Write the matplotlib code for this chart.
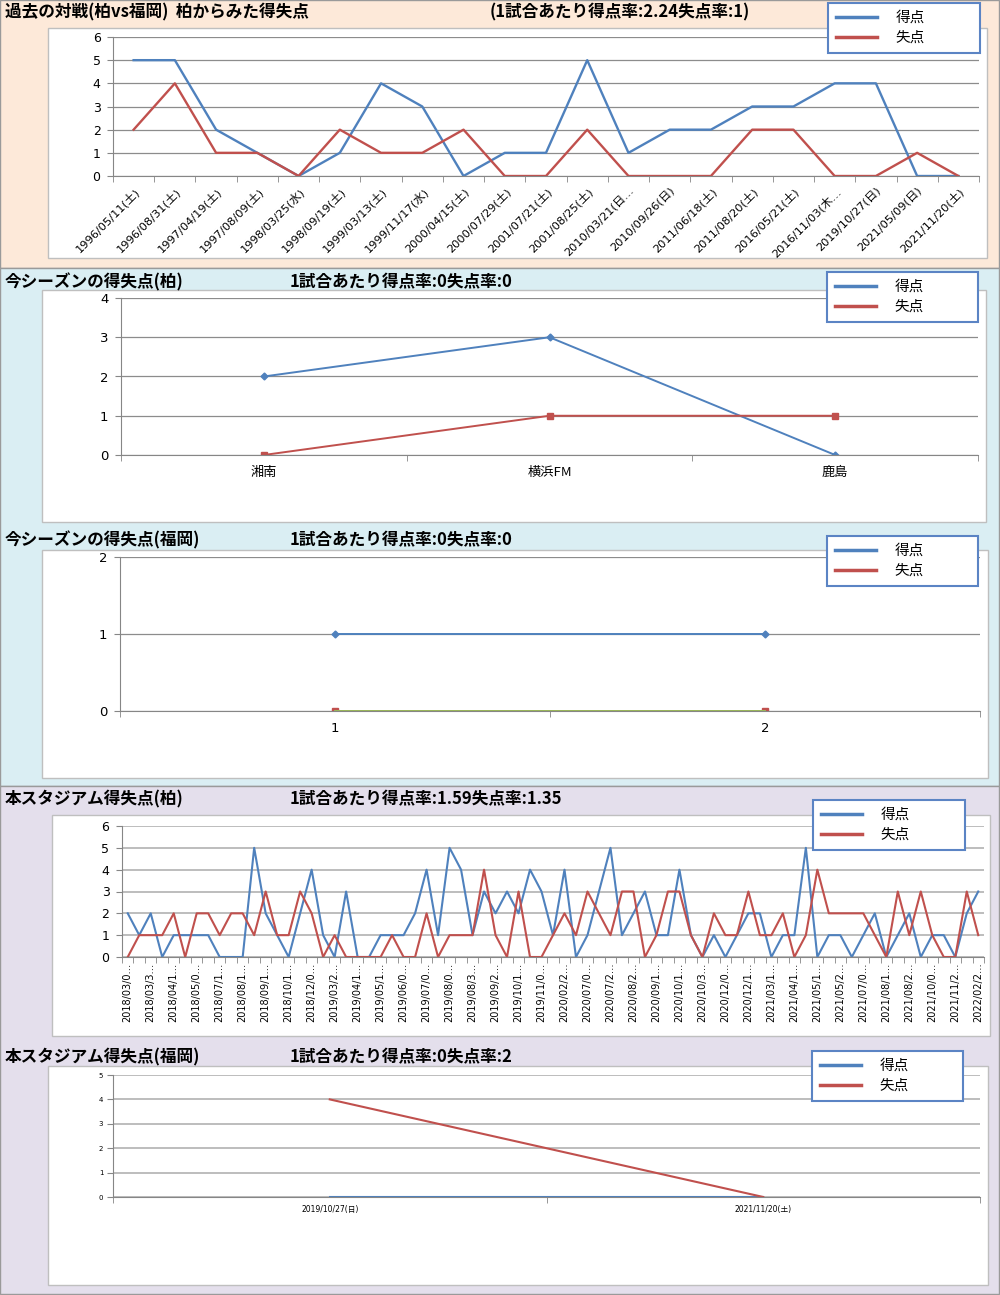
import numpy as np
from matplotlib import pyplot as plt
from matplotlib.patches import Rectangle
from matplotlib.lines import Line2D
import sys

W, H = 1000, 1295
BLUE = '#4F81BD'
RED = '#C0504D'
GREEN = '#9BBB59'
JP = ['Noto Sans CJK JP', 'DejaVu Sans']
NUM = ['DejaVu Sans', 'Noto Sans CJK JP']

# past matches (kashiwa view)
past_dates = ['1996/05/11(土)', '1996/08/31(土)', '1997/04/19(土)', '1997/08/09(土)',
              '1998/03/25(水)', '1998/09/19(土)', '1999/03/13(土)', '1999/11/17(水)',
              '2000/04/15(土)', '2000/07/29(土)', '2001/07/21(土)', '2001/08/25(土)',
              '2010/03/21(日…', '2010/09/26(日)', '2011/06/18(土)', '2011/08/20(土)',
              '2016/05/21(土)', '2016/11/03(木…', '2019/10/27(日)', '2021/05/09(日)',
              '2021/11/20(土)']
past_for = [5, 5, 2, 1, 0, 1, 4, 3, 0, 1, 1, 5, 1, 2, 2, 3, 3, 4, 4, 0, 0]
past_against = [2, 4, 1, 1, 0, 2, 1, 1, 2, 0, 0, 2, 0, 0, 0, 2, 2, 0, 0, 1, 0]

# this season kashiwa
kashiwa_opp = ['湘南', '横浜FM', '鹿島']
kashiwa_for = [2, 3, 0]
kashiwa_against = [0, 1, 1]

# this season fukuoka
fukuoka_games = ['1', '2']
fukuoka_for = [1, 1]
fukuoka_against = [0, 0]
fukuoka_third = [0, 0]

# stadium kashiwa (labels shown every other game)
stadium_labels = ['2018/03/0…', '2018/03/3…', '2018/04/1…', '2018/05/0…', '2018/07/1…',
                  '2018/08/1…', '2018/09/1…', '2018/10/1…', '2018/12/0…', '2019/03/2…',
                  '2019/04/1…', '2019/05/1…', '2019/06/0…', '2019/07/0…', '2019/08/0…',
                  '2019/08/3…', '2019/09/2…', '2019/10/1…', '2019/11/0…', '2020/02/2…',
                  '2020/07/0…', '2020/07/2…', '2020/08/2…', '2020/09/1…', '2020/10/1…',
                  '2020/10/3…', '2020/12/0…', '2020/12/1…', '2021/03/1…', '2021/04/1…',
                  '2021/05/1…', '2021/05/2…', '2021/07/0…', '2021/08/1…', '2021/08/2…',
                  '2021/10/0…', '2021/11/2…', '2022/02/2…']
stadium_for = [2, 1, 2, 0, 1, 1, 1, 1, 0, 0, 0, 5, 2, 1, 0, 2, 4, 1, 0, 3, 0, 0, 1, 1, 1,
               2, 4, 1, 5, 4, 1, 3, 2, 3, 2, 4, 3, 1, 4, 0, 1, 3, 5, 1, 2, 3, 1, 1, 4,
               1, 0, 1, 0, 1, 2, 2, 0, 1, 1, 5, 0, 1, 1, 0, 1, 2, 0, 1, 2, 0, 1, 1, 0, 2, 3]
stadium_against = [0, 1, 1, 1, 2, 0, 2, 2, 1, 2, 2, 1, 3, 1, 1, 3, 2, 0, 1, 0, 0, 0, 0, 1, 0,
                   0, 2, 0, 1, 1, 1, 4, 1, 0, 3, 0, 0, 1, 2, 1, 3, 2, 1, 3, 3, 0, 1, 3, 3,
                   1, 0, 2, 1, 1, 3, 1, 1, 2, 0, 1, 4, 2, 2, 2, 2, 1, 0, 3, 1, 3, 1, 0, 0, 3, 1]

# stadium fukuoka
fk_dates = ['2019/10/27(日)', '2021/11/20(土)']
fk_for = [0, 0]
fk_against = [4, 0]


def rect(fig, x0, y0, x1, y1, fc, ec, z):
    r = Rectangle((x0 / W, 1 - y1 / H), (x1 - x0) / W, (y1 - y0) / H,
                  transform=fig.transFigure, facecolor=fc, edgecolor=ec, lw=1, zorder=z)
    fig.add_artist(r)


def axes_px(fig, x0, y0, x1, y1):
    return fig.add_axes([x0 / W, 1 - y1 / H, (x1 - x0) / W, (y1 - y0) / H])


def style(ax, n, ymax, fs, gridc='#8C8C8C', gridw=0.9):
    ax.set_facecolor('none')
    ax.set_xlim(-0.5, n - 0.5)
    ax.set_ylim(0, ymax)
    ax.set_yticks(range(ymax + 1))
    ax.grid(axis='y', color=gridc, lw=gridw)
    ax.set_axisbelow(True)
    ax.spines['top'].set_visible(False)
    ax.spines['right'].set_visible(False)
    ax.spines['left'].set_color('#868686')
    ax.spines['bottom'].set_color('#868686')
    ax.set_xticks(np.arange(-0.5, n), minor=True)
    ax.tick_params(axis='x', which='minor', length=4, direction='out', color='#868686')
    ax.tick_params(axis='x', which='major', length=0)
    ax.tick_params(axis='y', length=4, color='#868686', labelsize=fs, pad=5)
    for t in ax.get_yticklabels():
        t.set_family(NUM)


def legend(fig, x0, y0, x1, y1):
    hs = [Line2D([], [], color=BLUE, lw=2.5), Line2D([], [], color=RED, lw=2.5)]
    leg = fig.legend(hs, ['得点', '失点'], loc='upper left', mode='expand',
                     bbox_to_anchor=(x0 / W, 1 - y1 / H, (x1 - x0) / W, (y1 - y0) / H),
                     bbox_transform=fig.transFigure, fancybox=False, framealpha=1,
                     edgecolor='#5B84C4', prop={'family': JP, 'size': 10.5},
                     handlelength=2.8, handletextpad=1.3, labelspacing=0.4,
                     borderpad=0.55, borderaxespad=0)
    leg.get_frame().set_linewidth(1.5)


def title(fig, x, y, s):
    fig.text(x / W, 1 - y / H, s, fontsize=12, fontweight='bold', family=JP, va='center')


def main(args):
    fig = plt.figure(figsize=(10, 12.95), dpi=100)

    # backgrounds
    rect(fig, 0, 0, 999, 268, '#FDE9D9', '#9A9A9A', -3)
    rect(fig, 0, 268, 999, 786, '#DAEEF3', '#9A9A9A', -3)
    rect(fig, 0, 786, 999, 1294, '#E4DFEC', '#9A9A9A', -3)
    rect(fig, 48, 28, 987, 258, 'white', '#BFBFBF', -2)
    rect(fig, 42, 290, 986, 522, 'white', '#BFBFBF', -2)
    rect(fig, 42, 550, 988, 778, 'white', '#BFBFBF', -2)
    rect(fig, 52, 815, 990, 1036, 'white', '#BFBFBF', -2)
    rect(fig, 48, 1066, 988, 1285, 'white', '#BFBFBF', -2)

    # panel 1
    title(fig, 5, 12, '過去の対戦(柏vs福岡)  柏からみた得失点')
    title(fig, 490, 12, '(1試合あたり得点率:2.24失点率:1)')
    ax = axes_px(fig, 113, 37, 979, 176)
    x = np.arange(len(past_dates))
    ax.plot(x, past_for, color=BLUE, lw=1.7)
    ax.plot(x, past_against, color=RED, lw=1.7)
    style(ax, len(past_dates), 6, 9)
    ax.set_xticks(x)
    ax.set_xticklabels(past_dates, rotation=45, ha='right', rotation_mode='anchor',
                       fontsize=8.2, family=NUM)
    ax.tick_params(axis='x', which='major', pad=7)
    legend(fig, 828, 3, 980, 53)

    # panel 2
    title(fig, 5, 282, '今シーズンの得失点(柏)')
    title(fig, 290, 282, '1試合あたり得点率:0失点率:0')
    ax = axes_px(fig, 121, 298, 978, 455)
    x = np.arange(len(kashiwa_opp))
    ax.plot(x, kashiwa_for, color=BLUE, lw=1.4, marker='D', ms=3.5)
    ax.plot(x, kashiwa_against, color=RED, lw=1.4, marker='s', ms=4.5)
    style(ax, len(kashiwa_opp), 4, 9.5)
    ax.set_xticks(x)
    ax.set_xticklabels(kashiwa_opp, fontsize=9.5, family=JP)
    ax.tick_params(axis='x', which='major', pad=8)
    legend(fig, 827, 272, 978, 323)

    # panel 3
    title(fig, 5, 540, '今シーズンの得失点(福岡)')
    title(fig, 290, 540, '1試合あたり得点率:0失点率:0')
    ax = axes_px(fig, 120, 557, 980, 711)
    x = np.arange(len(fukuoka_games))
    ax.plot(x, fukuoka_for, color=BLUE, lw=1.4, marker='D', ms=3.5)
    ax.plot(x, fukuoka_against, color=RED, lw=1.4, marker='s', ms=4.5)
    ax.plot(x, fukuoka_third, color=GREEN, lw=1.4)
    style(ax, len(fukuoka_games), 2, 9.5)
    ax.set_xticks(x)
    ax.set_xticklabels(fukuoka_games, fontsize=9.5, family=NUM)
    ax.tick_params(axis='x', which='major', pad=8)
    legend(fig, 827, 536, 978, 586)

    # panel 4
    title(fig, 5, 799, '本スタジアム得失点(柏)')
    title(fig, 290, 799, '1試合あたり得点率:1.59失点率:1.35')
    ax = axes_px(fig, 122, 826, 984, 957)
    x = np.arange(len(stadium_for))
    ax.plot(x, stadium_for, color=BLUE, lw=1.5)
    ax.plot(x, stadium_against, color=RED, lw=1.5)
    style(ax, len(stadium_for), 6, 9, gridc='#B8B8B8', gridw=1.3)
    ax.set_xticks(x[::2])
    ax.set_xticklabels(stadium_labels, rotation=90, fontsize=7, family=NUM)
    ax.tick_params(axis='x', which='major', pad=4)
    legend(fig, 813, 800, 965, 850)

    # panel 5
    title(fig, 5, 1057, '本スタジアム得失点(福岡)')
    title(fig, 290, 1057, '1試合あたり得点率:0失点率:2')
    ax = axes_px(fig, 113, 1075, 980, 1197)
    x = np.arange(len(fk_dates))
    ax.plot(x, fk_for, color=BLUE, lw=1.5)
    ax.plot(x, fk_against, color=RED, lw=1.5)
    style(ax, len(fk_dates), 5, 5, gridc='#B8B8B8', gridw=1.3)
    ax.set_xticks(x)
    ax.set_xticklabels(fk_dates, fontsize=5.5, family=NUM)
    ax.tick_params(axis='x', which='major', pad=6)
    ax.tick_params(axis='y', pad=3)
    legend(fig, 812, 1051, 963, 1101)

    fig.savefig('out.png', dpi=100)


if __name__ == '__main__':
    sys.exit(main(sys.argv))
